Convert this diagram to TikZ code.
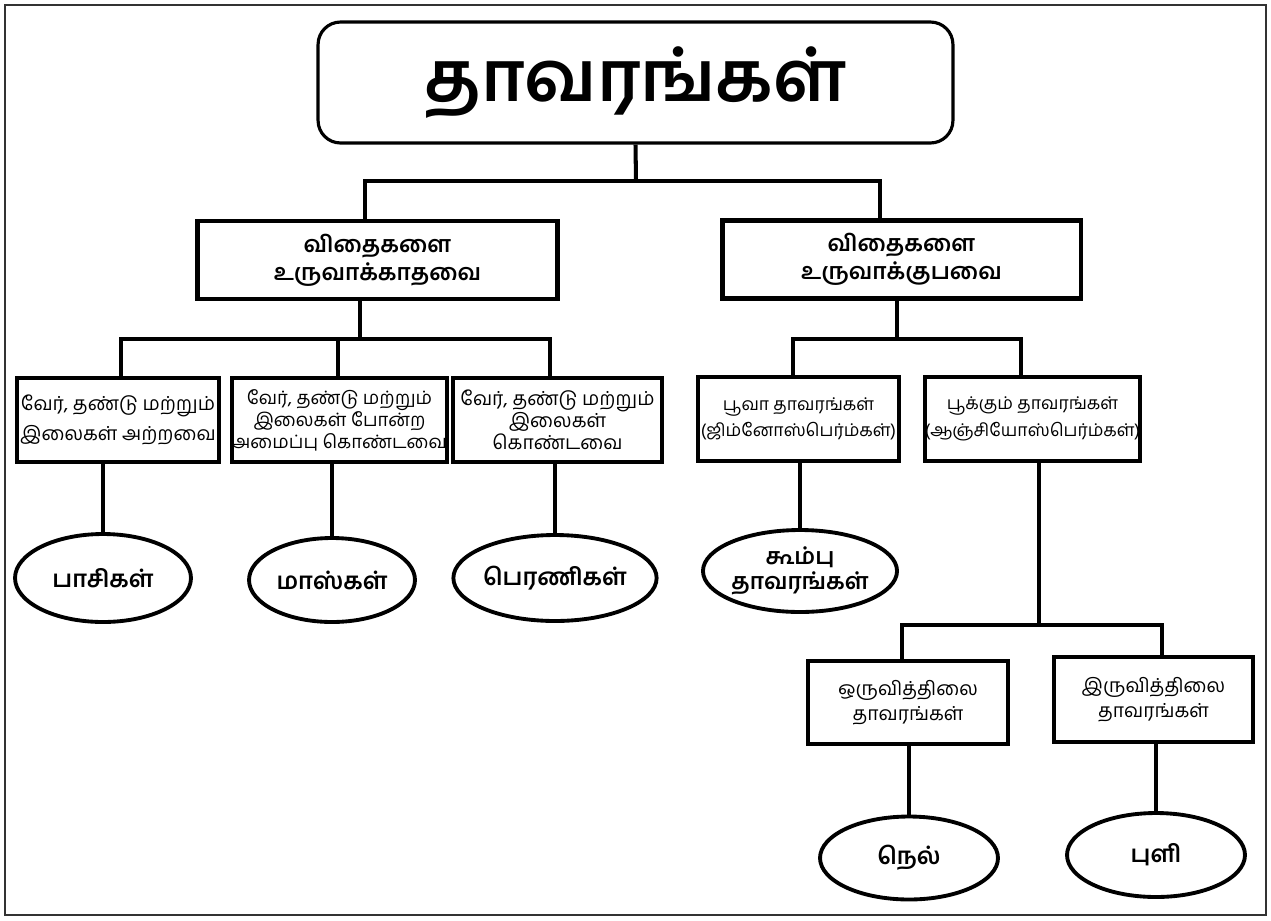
\documentclass[tikz,border=0pt]{standalone}
\usepackage{fontspec}
\setmainfont[Script=Tamil]{Hind Madurai}
\usetikzlibrary{shapes.geometric}

\tikzset{
  link/.style={line width=2.3pt},
  rootbox/.style={draw, rounded corners=0.45cm, line width=1.8pt, minimum width=12.7cm, minimum height=2.42cm, font=\bfseries\fontsize{40}{48}\selectfont},
  groupbox/.style={draw, line width=2.8pt, minimum width=7.2cm, minimum height=1.56cm, align=center, inner sep=0pt, font=\bfseries\fontsize{13}{16}\selectfont},
  kindbox/.style={draw, line width=2.6pt, minimum width=4.04cm, minimum height=1.68cm, align=center, inner sep=0pt, font=\fontsize{11}{14}\selectfont},
  leaf/.style={draw, ellipse, line width=2.2pt, minimum width=3.5cm, minimum height=1.7cm, align=center, inner sep=0pt, font=\bfseries\fontsize{13.5}{16}\selectfont},
}

\begin{document}
\begin{tikzpicture}[x=0.02cm,y=-0.02cm]
\useasboundingbox (0,0) rectangle (1271,920);
% page frame
\draw[line width=1pt, black!80] (5,5) rectangle (1266,915);

% root
\node[rootbox] (title) at (635.5,82.5) {தாவரங்கள்};

% seed / no seed
\node[groupbox] (nosd) at (377.5,260) {விதைகளை\\உருவாக்காதவை};
\node[groupbox, minimum width=7.18cm] (sd) at (901.5,259.5) {விதைகளை\\உருவாக்குபவை};

% plants without seeds
\node[kindbox, font=\fontsize{11}{17}\selectfont] (b1) at (118,420) {வேர், தண்டு மற்றும்\\இலைகள் அற்றவை};
\node[kindbox, minimum width=4.06cm, font=\fontsize{10.5}{12.5}\selectfont] (b2) at (339.5,420) {வேர், தண்டு மற்றும்\\இலைகள் போன்ற\\அமைப்பு கொண்டவை};
\node[kindbox, minimum width=4.18cm, font=\fontsize{11}{12.5}\selectfont] (b3) at (557.5,420) {வேர், தண்டு மற்றும்\\இலைகள்\\கொண்டவை};

% plants with seeds
\node[kindbox, minimum width=4.02cm, font=\fontsize{10}{15}\selectfont] (gymno) at (798.5,419) {பூவா தாவரங்கள்\\(ஜிம்னோஸ்பெர்ம்கள்)};
\node[kindbox, minimum width=4.02cm, font=\fontsize{10}{15}\selectfont] (angio) at (1032.5,419) {பூக்கும் தாவரங்கள்\\(ஆஞ்சியோஸ்பெர்ம்கள்)};

\node[kindbox, minimum width=4.0cm, minimum height=1.66cm] (mono) at (908,702.5) {ஒருவித்திலை\\தாவரங்கள்};
\node[kindbox, minimum width=3.98cm, minimum height=1.7cm] (di) at (1153.5,699.5) {இருவித்திலை\\தாவரங்கள்};

% examples
\node[leaf, minimum width=3.52cm, minimum height=1.76cm] (e1) at (103,578) {பாசிகள்};
\node[leaf, minimum width=3.32cm, minimum height=1.68cm] (e2) at (332,580) {மாஸ்கள்};
\node[leaf, minimum width=3.44cm, minimum height=1.72cm] (e3) at (555,578) {பெரணிகள்};
\node[leaf, minimum width=3.56cm, minimum height=1.64cm, font=\bfseries\fontsize{13}{14}\selectfont] (e4) at (800,571) {கூம்பு\\தாவரங்கள்};
\node[leaf, minimum width=3.56cm, minimum height=1.66cm] (nel) at (909,858) {நெல்};
\node[leaf, minimum width=3.56cm, minimum height=1.68cm] (puli) at (1156,855) {புளி};

% connectors
\coordinate (j0) at (636,181);
\draw[link] (title.south) -- (j0);
\draw[link] (365,0 |- nosd.north) |- (j0) -| (880,0 |- sd.north);

\coordinate (j1) at (360,339);
\draw[link] (nosd.south -| j1) -- (j1);
\draw[link] (121,0 |- b1.north) |- (j1) -| (550,0 |- b3.north);
\draw[link] (338,0 |- b2.north) -- (338,0 |- j1);

\coordinate (j2) at (897,339);
\draw[link] (sd.south -| j2) -- (j2);
\draw[link] (793,0 |- gymno.north) |- (j2) -| (1021,0 |- angio.north);

\coordinate (j3) at (1039,625);
\draw[link] (angio.south -| j3) -- (j3);
\draw[link] (902,0 |- mono.north) |- (j3) -| (1162,0 |- di.north);

\draw[link] (b1.south -| e1.north) -- (e1.north);
\draw[link] (b2.south -| e2.north) -- (e2.north);
\draw[link] (b3.south -| e3.north) -- (e3.north);
\draw[link] (gymno.south -| e4.north) -- (e4.north);
\draw[link] (mono.south -| nel.north) -- (nel.north);
\draw[link] (di.south -| puli.north) -- (puli.north);
\end{tikzpicture}
\end{document}
